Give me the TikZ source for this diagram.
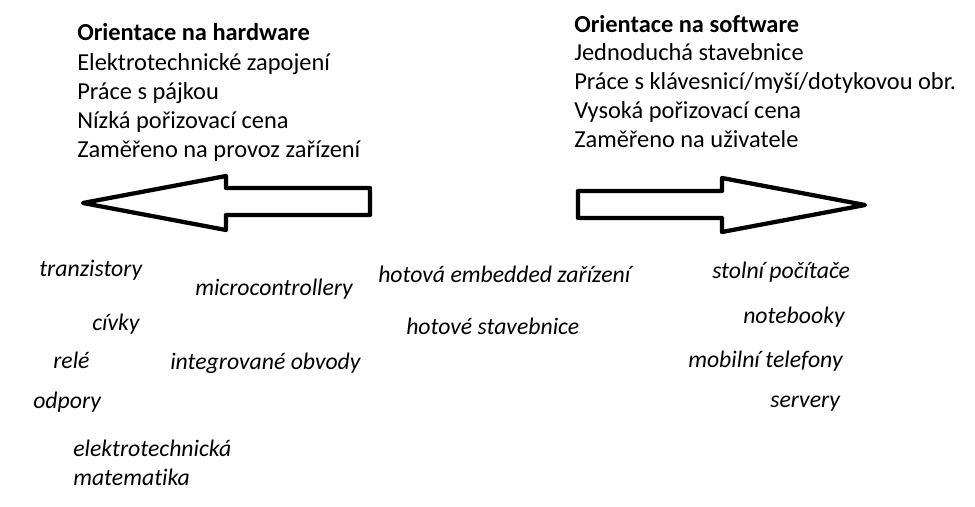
\documentclass[tikz,border=0pt]{standalone}
\usepackage{fontspec}
\setmainfont{Carlito}[Ligatures=NoCommon]
\begin{document}
\begin{tikzpicture}[x=0.75pt,y=-0.75pt,
  txt/.style={anchor=base west,inner sep=0pt,font=\fontsize{18.3pt}{22pt}\selectfont},
  itxt/.style={txt,font=\fontsize{17.8pt}{22pt}\selectfont\itshape},
  hd/.style={txt,font=\fontsize{18.3pt}{22pt}\selectfont\bfseries},
  bigarrow/.style={draw=black,line width=3.2pt,line join=round,fill=white}]
\useasboundingbox (0,0) rectangle (975,507);
% arrows
\draw[bigarrow] (83,203) -- (226,176) -- (226,188) -- (370,188) -- (370,215) -- (226,215) -- (226,230) -- cycle;
\draw[bigarrow] (865,205) -- (722,178) -- (722,191) -- (578,191) -- (578,218) -- (722,218) -- (722,232) -- cycle;
% left header
\node[hd] (h1) at (77,40) {Orientace na hardware};
\node[txt] (h2) at (77,70) {Elektrotechnické zapojení};
\node[txt] (h3) at (77,99) {Práce s pájkou};
\node[txt] (h4) at (77,128) {Nízká pořizovací cena};
\node[txt] (h5) at (77,157) {Zaměřeno na provoz zařízení};
% right header
\node[hd] (s1) at (574,32) {Orientace na software};
\node[txt] (s2) at (574,60) {Jednoduchá stavebnice};
\node[txt] (s3) at (574,89) {Práce s klávesnicí/myší/dotykovou obr.};
\node[txt] (s4) at (574,118) {Vysoká pořizovací cena};
\node[txt] (s5) at (574,147) {Zaměřeno na uživatele};
% items
\node[itxt] (i1) at (39,276) {tranzistory};
\node[itxt] (i2) at (195,295) {microcontrollery};
\node[itxt] (i3) at (92,330) {cívky};
\node[itxt] (i4) at (53,368) {relé};
\node[itxt] (i5) at (170,369) {integrované obvody};
\node[itxt] (i6) at (33,408) {odpory};
\node[itxt] (i7) at (73,456) {elektrotechnická};
\node[itxt] (i8) at (73,485) {matematika};
\node[itxt] (m1) at (378,282) {hotová embedded zařízení};
\node[itxt] (m2) at (406,334) {hotové stavebnice};
\node[itxt] (r1) at (712,278) {stolní počítače};
\node[itxt] (r2) at (743,323) {notebooky};
\node[itxt] (r3) at (688,367) {mobilní telefony};
\node[itxt] (r4) at (770,407) {servery};
\end{tikzpicture}
\end{document}
